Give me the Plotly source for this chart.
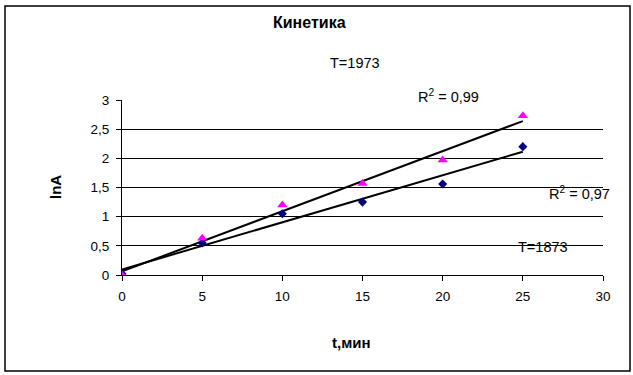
import numpy as np
import plotly.graph_objects as go

# Data
t_min = [0, 5, 10, 15, 20, 25]
lnA_1873 = [0.02, 0.55, 1.05, 1.25, 1.56, 2.20]
lnA_1973 = [0.00, 0.63, 1.20, 1.57, 1.97, 2.73]
x_ticks = [0, 5, 10, 15, 20, 25, 30]
y_ticks = [0, 0.5, 1, 1.5, 2, 2.5, 3]
grid_vals = [0.5, 1, 1.5, 2, 2.5]

W, H = 633, 375
L, T, R, B = 122, 100, 30, 100
PW, PH = W - L - R, H - T - B


def px(x):
    return (x - L) / PW


def py(y):
    return (H - B - y) / PH


FONT = "Liberation Sans, Arial, sans-serif"

fig = go.Figure()

# trend lines (linear fits)
for ys in (lnA_1973, lnA_1873):
    k, b = np.polyfit(t_min, ys, 1)
    xs = [t_min[0], t_min[-1]]
    fig.add_trace(go.Scatter(x=xs, y=[k * v + b for v in xs], mode="lines",
                             line=dict(color="black", width=2), showlegend=False,
                             hoverinfo="skip"))

fig.add_trace(go.Scatter(x=t_min, y=lnA_1873, mode="markers", name="T=1873",
                         marker=dict(symbol="diamond", color="#000080", size=7),
                         showlegend=False))
fig.add_trace(go.Scatter(x=t_min, y=lnA_1973, mode="markers", name="T=1973",
                         marker=dict(symbol="triangle-up", color="#FF00FF", size=9),
                         showlegend=False))


def note(text, x, y, size=14.5, **kw):
    return dict(text=text, x=px(x), y=py(y), xref="paper", yref="paper",
                xanchor="center", yanchor="middle", showarrow=False,
                font=dict(size=size), **kw)


fig.update_layout(
    width=W, height=H,
    margin=dict(l=L, r=R, t=T, b=B),
    paper_bgcolor="white", plot_bgcolor="white",
    separators=", ",
    font=dict(family=FONT, size=13, color="black"),
    xaxis=dict(range=[0, 30], tickvals=x_ticks, showgrid=False, zeroline=False,
               showline=True, linecolor="black", linewidth=1,
               ticks="outside", ticklen=5, tickcolor="black",
               tickfont=dict(size=13.5), ticklabelstandoff=4),
    yaxis=dict(range=[0, 3], tickvals=y_ticks, showgrid=False, zeroline=False,
               showline=True, linecolor="black", linewidth=1,
               ticks="outside", ticklen=5, tickcolor="black",
               tickfont=dict(size=13.5), ticklabelstandoff=4,
               minor=dict(tickvals=grid_vals, showgrid=True, gridcolor="black",
                          gridwidth=1, ticks="")),
    annotations=[
        note("<b>Кинетика</b>", 309, 22, 16),
        note("T=1973", 355, 63),
        note("R<sup>2</sup> = 0,99", 448, 96),
        note("R<sup>2</sup> = 0,97", 579, 193),
        note("T=1873", 543, 247),
        note("<b>lnA</b>", 55, 187, 15, textangle=-90),
        note("<b>t,мин</b>", 351, 342, 15),
    ],
    shapes=[
        dict(type="rect", xref="paper", yref="paper",
             x0=px(5), x1=px(630), y0=py(371), y1=py(6),
             line=dict(color="black", width=1.5), layer="above"),
    ],
)

fig.write_html(
    "out.html",
    config={"displayModeBar": False},
    post_script="document.body.style.margin='0';document.body.style.overflow='hidden';",
)
